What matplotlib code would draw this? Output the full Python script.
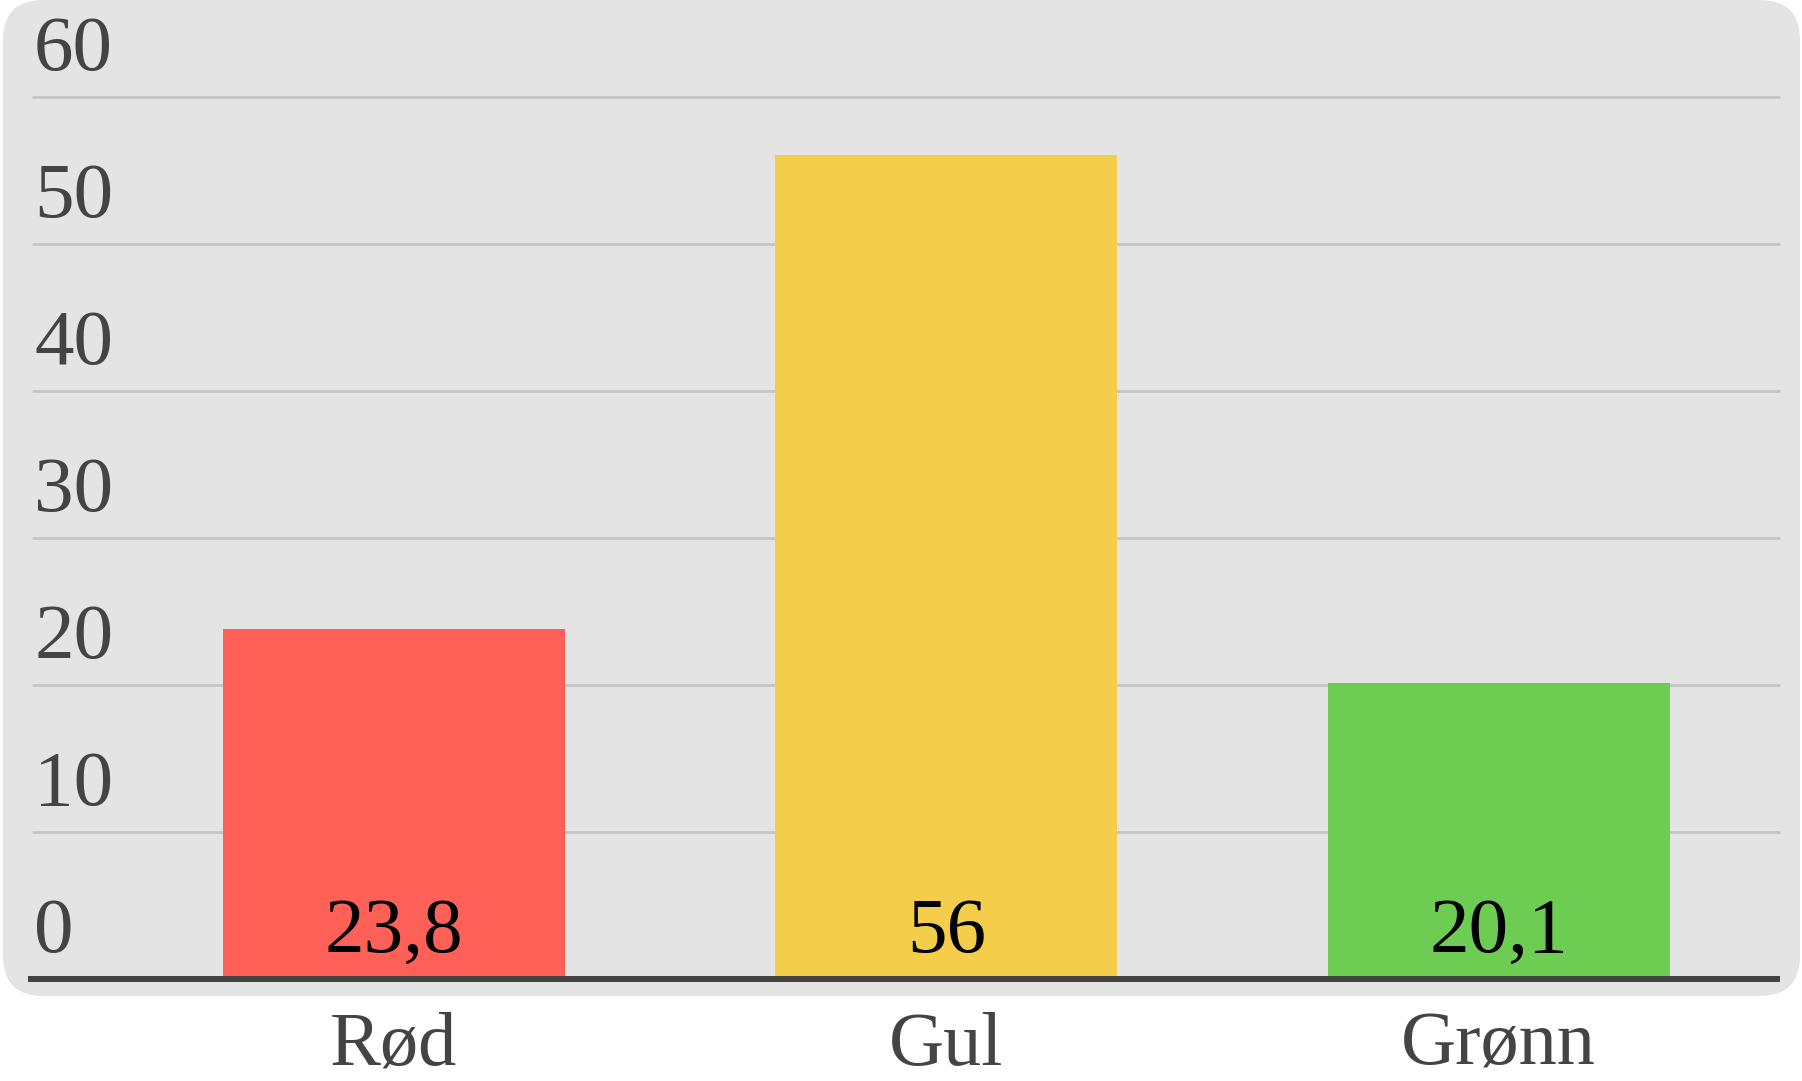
import matplotlib
matplotlib.use("Agg")
import matplotlib.pyplot as plt
import matplotlib.transforms as mtransforms
from matplotlib.patches import FancyBboxPatch

categories = ["Rød", "Gul", "Grønn"]
values = [23.8, 56, 20.1]
value_labels = ["23,8", "56", "20,1"]
colors = ["#ff6159", "#f4ce4a", "#6dcc52"]
yticks = [0, 10, 20, 30, 40, 50, 60]
ytick_labels = ["0", "10", "20", "30", "40", "50", "60"]

W, H = 1802, 1081
DPI = 100
fig = plt.figure(figsize=(W / DPI, H / DPI), dpi=DPI)
fig.patch.set_facecolor("white")

# rounded background panel (pixel coordinates)
bg = FancyBboxPatch((3, H - 996), 1797, 996, boxstyle="round,pad=0,rounding_size=40",
                    transform=mtransforms.IdentityTransform(), facecolor="#e4e4e4",
                    edgecolor="none", zorder=-10)
fig.patches.append(bg)

left_px, right_px = 32, 1780
zero_px, top_px = 979, 96.5
ax = fig.add_axes([left_px / W, (H - zero_px) / H, (right_px - left_px) / W,
                   (zero_px - top_px) / H])
ax.set_zorder(1)
ax.set_facecolor("none")
ax.patch.set_visible(False)
for s in ax.spines.values():
    s.set_visible(False)

x = list(range(len(categories)))
ax.set_xlim(-0.655, 2.509)
ax.set_ylim(0, 60)

font = "Liberation Serif"
fs = 57

for t in yticks[1:]:
    ax.axhline(t, color="#c4c4c4", lw=1.9, zorder=1, clip_on=False,
               solid_capstyle="butt")

ax.bar(x, values, width=0.619, color=colors, zorder=2)
ax.axhline(0, xmin=-4 / (right_px - left_px), color="#444444", lw=4.3, zorder=3,
           clip_on=False, solid_capstyle="butt")

ax.set_xticks([])
ax.set_yticks([])

# y tick labels above gridlines
off_up = mtransforms.offset_copy(ax.transData, fig=fig, x=0, y=27 * 72 / DPI, units="points")
blend_up = mtransforms.blended_transform_factory(ax.transAxes, off_up)
for t, lab in zip(yticks, ytick_labels):
    ax.text(2 / (right_px - left_px), t, lab, transform=blend_up, ha="left", va="baseline",
            fontsize=fs, family=font, color="#444444", zorder=4, clip_on=False)

# value labels inside bars at bottom
off_val = mtransforms.offset_copy(ax.transData, fig=fig, x=0, y=27 * 72 / DPI, units="points")
for xi, lab in zip(x, value_labels):
    ax.text(xi, 0, lab, transform=off_val, ha="center", va="baseline",
            fontsize=fs, family=font, color="#000000", zorder=4)

# category labels below axis
off_cat = mtransforms.offset_copy(ax.transData, fig=fig, x=0, y=-86 * 72 / DPI, units="points")
for xi, lab in zip(x, categories):
    ax.text(xi, 0, lab, transform=off_cat, ha="center", va="baseline",
            fontsize=55, family=font, color="#444444", zorder=4, clip_on=False)

fig.savefig("out.png", dpi=DPI)
